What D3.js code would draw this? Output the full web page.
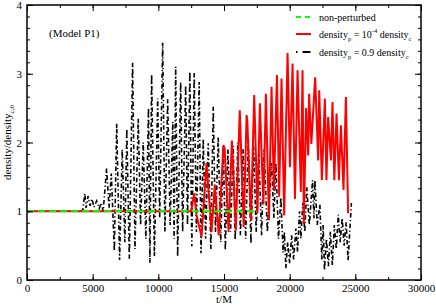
<!DOCTYPE html>
<html>
<head>
<meta charset="utf-8">
<script src="https://cdn.jsdelivr.net/npm/d3@7"></script>
<style>
  body { margin: 0; background: #fff; }
</style>
</head>
<body>
<div id="chart"></div>
<script>
// values (t/M, density/density_c,0)
const xTicks = [0, 5000, 10000, 15000, 20000, 25000, 30000];
const yTicks = [0, 1, 2, 3, 4];

const nonPerturbed = [[0, 1.0], [17500, 1.0]];

const smallPert = [
  [0, 1.0], [12500, 1.0], [12730, 1.26], [12900, 0.95], [13290, 0.63], [13670, 1.7],
  [14050, 0.7], [14300, 1.38], [14600, 0.65], [14950, 1.96], [15050, 1.92], [15350, 0.7],
  [15600, 2.03], [15900, 0.72], [16200, 2.47], [16500, 0.77], [16720, 2.4], [16780, 2.3],
  [17050, 0.87], [17300, 2.69], [17550, 0.97], [17730, 2.57], [18000, 1.1], [18190, 2.71],
  [18420, 0.87], [18620, 2.81], [18800, 1.3], [19030, 2.98], [19200, 1.21], [19380, 2.93],
  [19580, 0.94], [19840, 3.3], [20020, 1.64], [20220, 3.15], [20400, 1.18], [20600, 3.05],
  [20850, 1.28], [20980, 3.05], [21080, 0.82], [21250, 2.5], [21410, 1.81], [21480, 2.71],
  [21650, 1.98], [21940, 2.95], [22170, 1.74], [22250, 2.76], [22450, 1.45], [22680, 2.64],
  [22800, 1.45], [22930, 2.37], [23140, 1.74], [23260, 2.59], [23400, 1.45], [23570, 2.42],
  [23750, 1.45], [23900, 2.25], [24100, 1.31], [24280, 2.66], [24450, 0.97]
];

const largePert = [
  [0, 1.0], [4100, 1.0], [4250, 1.02], [4400, 1.26], [4500, 1.05], [4650, 1.22], [4800, 1.08],
  [4950, 1.18], [5100, 1.06], [5300, 1.15], [5500, 1.04], [5650, 1.12], [5800, 1.0],
  [6060, 1.62], [6250, 1.05], [6420, 1.55], [6650, 0.42], [6830, 2.28], [7050, 0.29],
  [7250, 1.9], [7450, 0.55], [7600, 2.2], [7790, 0.31], [8040, 3.16], [8220, 0.45],
  [8470, 2.35], [8650, 0.8], [8850, 2.0], [9050, 0.6], [9250, 2.5], [9360, 0.25],
  [9490, 2.99], [9700, 0.34], [9950, 2.64], [10100, 0.9], [10330, 3.45], [10500, 0.7],
  [10710, 2.63], [10900, 0.8], [11100, 2.3], [11200, 0.6], [11320, 3.1], [11470, 0.34],
  [11700, 2.88], [11850, 0.7], [12080, 2.83], [12220, 0.8], [12400, 3.03], [12550, 0.49],
  [12730, 3.01], [12900, 0.7], [13110, 2.88], [13250, 0.39], [13420, 2.05], [13600, 0.6],
  [13800, 1.99], [14000, 0.45], [14180, 2.52], [14350, 0.7], [14560, 2.08], [14750, 0.55],
  [14950, 1.95], [15100, 0.43], [15300, 1.9], [15500, 0.7], [15700, 1.95], [15850, 0.58],
  [16050, 2.0], [16250, 0.65], [16450, 1.9], [16650, 0.6], [16850, 2.05], [17050, 0.53],
  [17250, 1.95], [17450, 0.7], [17650, 1.85], [17860, 0.65], [18050, 1.9], [18300, 0.7],
  [18620, 1.7], [18800, 0.9], [18950, 1.7], [19150, 0.6], [19330, 1.2], [19500, 0.4],
  [19600, 0.7], [19710, 0.17], [19850, 0.55], [20000, 0.24], [20150, 0.65], [20300, 0.3],
  [20470, 0.75], [20600, 0.41], [20750, 1.0], [20850, 0.6], [21000, 1.12], [21150, 0.7],
  [21300, 1.35], [21500, 0.8], [21740, 1.45], [21850, 0.9], [21920, 1.45], [22100, 0.8],
  [22300, 1.1], [22450, 0.3], [22550, 0.8], [22650, 0.14], [22800, 0.6], [22950, 0.2],
  [23100, 0.7], [23250, 0.21], [23400, 0.8], [23550, 0.45], [23700, 0.95], [23850, 0.55],
  [24000, 0.9], [24150, 0.5], [24300, 0.84], [24450, 0.28], [24700, 1.12]
];

const width = 436, height = 305;
const margin = { left: 27, right: 15, top: 5, bottom: 25 };
const serif = '"Liberation Serif", "Times New Roman", Times, "DejaVu Serif", serif';

const svg = d3.select("#chart").append("svg")
  .attr("width", width)
  .attr("height", height)
  .attr("font-family", serif);

const x = d3.scaleLinear().domain([0, 30000]).range([margin.left, width - margin.right]);
const y = d3.scaleLinear().domain([0, 4]).range([height - margin.bottom, margin.top]);

const line = d3.line().x(d => x(d[0])).y(d => y(d[1]));

// data lines, clipped to the frame
svg.append("clipPath").attr("id", "clip")
  .append("rect")
  .attr("x", x(0)).attr("y", y(4))
  .attr("width", x(30000) - x(0)).attr("height", y(0) - y(4));

const plot = svg.append("g").attr("clip-path", "url(#clip)");

plot.append("path").datum(largePert)
  .attr("d", line).attr("fill", "none")
  .attr("stroke", "#000").attr("stroke-width", 1.6)
  .attr("stroke-dasharray", "4.5,2.5,1.2,2.5");

plot.append("path").datum(smallPert)
  .attr("d", line).attr("fill", "none")
  .attr("stroke", "#ff0000").attr("stroke-width", 2);

plot.append("path").datum(nonPerturbed)
  .attr("d", line).attr("fill", "none")
  .attr("stroke", "#00ff00").attr("stroke-width", 2)
  .attr("stroke-dasharray", "7,4");

// axes with inward ticks on all four sides
const xMinor = d3.range(0, 30001, 2500);
const yMinor = d3.range(0, 24).map(i => i / 6);

function addAxis(axis, tr) {
  const g = svg.append("g").attr("transform", tr).call(axis);
  g.attr("font-family", serif).attr("font-size", 11);
  g.select(".domain").remove();
  g.selectAll("line").attr("stroke", "#000").attr("stroke-width", 1);
  g.selectAll("text").attr("fill", "#000");
  return g;
}

addAxis(d3.axisBottom(x).tickValues(xMinor).tickSize(-3).tickFormat(""), `translate(0,${y(0)})`);
addAxis(d3.axisBottom(x).tickValues(xTicks).tickSize(-6).tickPadding(4).tickFormat(d3.format("d")), `translate(0,${y(0)})`);
addAxis(d3.axisTop(x).tickValues(xMinor).tickSize(-3).tickFormat(""), `translate(0,${y(4)})`);
addAxis(d3.axisTop(x).tickValues(xTicks).tickSize(-6).tickFormat(""), `translate(0,${y(4)})`);
addAxis(d3.axisLeft(y).tickValues(yMinor).tickSize(-3).tickFormat(""), `translate(${x(0)},0)`);
addAxis(d3.axisLeft(y).tickValues(yTicks).tickSize(-6).tickPadding(5).tickFormat(d3.format("d")), `translate(${x(0)},0)`);
addAxis(d3.axisRight(y).tickValues(yMinor).tickSize(-3).tickFormat(""), `translate(${x(30000)},0)`);
addAxis(d3.axisRight(y).tickValues(yTicks).tickSize(-6).tickFormat(""), `translate(${x(30000)},0)`);

svg.append("rect")
  .attr("x", x(0)).attr("y", y(4))
  .attr("width", x(30000) - x(0)).attr("height", y(0) - y(4))
  .attr("fill", "none").attr("stroke", "#000").attr("stroke-width", 1.5);

// axis titles
svg.append("text")
  .attr("x", (x(0) + x(30000)) / 2).attr("y", 303)
  .attr("text-anchor", "middle").attr("font-size", 11)
  .text("t/M");

const yl = svg.append("text")
  .attr("transform", `translate(11,${(y(0) + y(4)) / 2}) rotate(-90)`)
  .attr("text-anchor", "middle").attr("font-size", 11);
yl.append("tspan").text("density/density");
yl.append("tspan").attr("font-size", 7).attr("dy", 3).text("c,0");

svg.append("text")
  .attr("x", 49).attr("y", 37)
  .attr("font-size", 11)
  .text("(Model P1)");

// legend
const legend = svg.append("g").attr("font-size", 10);
const lx0 = 296, lx1 = 311, tx = 319;

legend.append("line").attr("x1", lx0).attr("x2", lx1).attr("y1", 17).attr("y2", 17)
  .attr("stroke", "#00ff00").attr("stroke-width", 2).attr("stroke-dasharray", "5,4");
legend.append("line").attr("x1", lx0).attr("x2", lx1).attr("y1", 34).attr("y2", 34)
  .attr("stroke", "#ff0000").attr("stroke-width", 2);
legend.append("line").attr("x1", lx0).attr("x2", lx1).attr("y1", 52).attr("y2", 52)
  .attr("stroke", "#000").attr("stroke-width", 2).attr("stroke-dasharray", "1.5,5,8,2");

legend.append("text").attr("x", tx).attr("y", 20.5).text("non-perturbed");

const t2 = legend.append("text").attr("x", tx).attr("y", 37.5);
t2.append("tspan").text("density");
t2.append("tspan").attr("font-size", 6.5).attr("dy", 3).text("p");
t2.append("tspan").attr("dy", -3).text(" = 10");
t2.append("tspan").attr("font-size", 6.5).attr("dy", -4.5).text("-4");
t2.append("tspan").attr("dy", 4.5).text(" density");
t2.append("tspan").attr("font-size", 6.5).attr("dy", 3).text("c");

const t3 = legend.append("text").attr("x", tx).attr("y", 55.5);
t3.append("tspan").text("density");
t3.append("tspan").attr("font-size", 6.5).attr("dy", 3).text("p");
t3.append("tspan").attr("dy", -3).text(" = 0.9 density");
t3.append("tspan").attr("font-size", 6.5).attr("dy", 3).text("c");
</script>
</body>
</html>
